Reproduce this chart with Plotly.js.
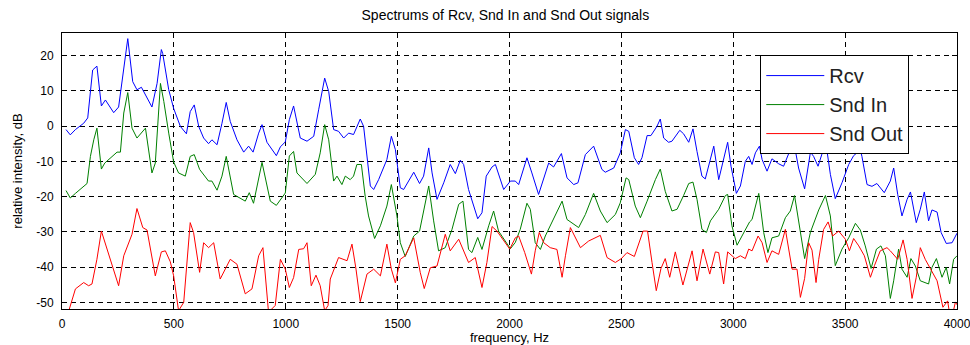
<!DOCTYPE html>
<html>
<head>
<meta charset="utf-8">
<script src="https://cdn.plot.ly/plotly-3.0.1.min.js"></script>
<style>
html,body{margin:0;padding:0;background:#fff;}
#chart{width:970px;height:345px;}
</style>
</head>
<body>
<div id="chart"></div>
<script>
// ---- data ----
const chartTitle = "Spectrums of Rcv, Snd In and Snd Out signals";
const xTitle = "frequency, Hz";
const yTitle = "relative intensity, dB";
const seriesNames = ["Rcv", "Snd In", "Snd Out"];
const xTickVals = [0, 500, 1000, 1500, 2000, 2500, 3000, 3500, 4000];
const yTickVals = [-50, -40, -30, -20, -10, 0, 10, 20];

const freqRcv = [18,37,60,97,115,127,137,156,176,194,231,253,276,294,316,335,355,402,425,444,450,477,499,529,556,573,591,611,633,655,670,693,715,734,752,782,812,834,854,879,894,916,958,976,998,1016,1035,1065,1095,1125,1147,1174,1192,1214,1236,1259,1281,1303,1333,1348,1378,1393,1415,1452,1472,1490,1512,1527,1572,1598,1616,1639,1654,1676,1706,1735,1758,1780,1795,1817,1858,1877,1896,1922,1937,1959,1974,2004,2026,2041,2078,2100,2130,2175,2197,2232,2257,2287,2306,2339,2376,2413,2428,2466,2495,2518,2533,2558,2577,2592,2615,2632,2659,2674,2689,2711,2726,2761,2778,2801,2820,2838,2860,2875,2898,2913,2935,2957,2975,2990,3014,3032,3054,3069,3084,3099,3117,3129,3151,3173,3203,3225,3248,3274,3292,3319,3345,3359,3379,3400,3415,3434,3456,3486,3516,3538,3568,3575,3598,3620,3642,3675,3702,3717,3735,3754,3777,3792,3818,3836,3854,3873,3888,3911,3929,3952,3978,4000];
const rcv = [-1,-2.5,-1,0.8,2.3,9.8,15.9,17,5.7,7.4,3.8,5.4,16.9,24.8,12.6,10.3,11,5.4,12.1,21.7,20.6,10.3,5,-0.1,-2.2,4.1,6,-0.1,-3.4,-5,-3.9,-5.3,0.8,6.7,1.3,-3.9,-7.4,-5.7,-7.4,-2,0.4,-4.6,-8.4,-5.9,-4.5,1.8,5.7,-3.4,-4.3,-2.9,4.6,13.6,9.8,-1,-1.5,-3.4,-2,-2.4,2,-0.1,-17,-18,-15.2,-9.5,-2.9,-6.7,-17.5,-18,-13.1,-16.3,-14.2,-6.2,-13.3,-20.8,-16.1,-10.9,-13.5,-9.7,-10.9,-18,-26.3,-24.6,-14.2,-11.6,-10.9,-15.2,-18,-15.6,-15.6,-16.6,-9,-13.3,-19.4,-10.5,-11.6,-7.8,-14.7,-16.6,-16.1,-8.1,-5.7,-12.3,-13.1,-11.9,-7.6,-1,-1.5,-9,-10.9,-9,-2.7,-2.7,-0.1,2,-3.4,-4.6,-4.3,-1.2,-2.2,-4.6,-0.8,-7.2,-14.2,-15,-9.3,-5.7,-15.2,-9.5,-4.6,-11.4,-19.1,-17,-10,-8.6,-10.9,-7.6,-5.7,-9.5,-12.8,-9.3,-10.7,-11.4,-7.8,-5.7,-11.9,-17.8,-7.4,-8.6,-11.4,-7.2,-5.3,-13.7,-20.6,-16.1,-10.9,-8.4,-6.8,-8.6,-16.6,-17.1,-16.3,-18.9,-15.6,-11.9,-19.4,-25.5,-20.8,-18.7,-27.4,-23.6,-18.7,-26.9,-23.8,-24.4,-30.2,-33.3,-33.1,-30.4];

const freqSndIn = [18,37,60,112,127,142,156,176,191,216,246,261,276,294,313,335,373,402,417,440,455,477,499,521,551,573,591,615,655,670,693,715,734,767,819,837,856,894,931,958,998,1016,1035,1050,1095,1132,1154,1174,1192,1214,1229,1251,1266,1288,1303,1318,1338,1355,1370,1397,1423,1452,1472,1497,1512,1534,1572,1598,1616,1639,1661,1683,1713,1743,1773,1792,1817,1832,1858,1877,1907,1929,1951,2004,2026,2048,2078,2093,2115,2138,2160,2205,2235,2257,2309,2339,2376,2406,2436,2473,2495,2521,2533,2562,2585,2615,2652,2674,2696,2726,2749,2778,2801,2820,2838,2860,2880,2898,2935,2965,2975,2994,3017,3039,3073,3084,3114,3136,3155,3173,3203,3233,3255,3274,3295,3319,3345,3382,3412,3434,3456,3486,3516,3546,3568,3590,3616,3640,3660,3680,3702,3717,3739,3754,3777,3794,3814,3836,3873,3888,3908,3933,3952,3967,3985,4000];
const sndIn = [-18.3,-20.4,-19.1,-16.3,-8.6,-3.9,-0.6,-12.2,-10.5,-9,-7.4,-7.4,3.7,9.5,-0.6,-3.4,-0.6,-13.3,-10.5,12.1,7,-2,-10.2,-13.3,-14.2,-8.6,-8.1,-12.3,-15.6,-15.6,-18.2,-14.2,-8.6,-19.4,-21.3,-18.9,-21.9,-10.3,-21.3,-22.5,-19,-8.5,-7.2,-13.3,-16.3,-13.7,-7.6,0.4,-3.9,-15.6,-14.2,-16.6,-14.2,-15.2,-14.2,-10.9,-10.9,-19.9,-25.5,-31.9,-28.3,-22.7,-16.6,-25.5,-33.1,-37,-31.2,-29.8,-24.1,-17,-26.9,-35.4,-34.5,-29.3,-22.2,-21.3,-35,-35.9,-31.6,-35,-28.3,-24.1,-29.8,-34.8,-33,-29.3,-21.9,-23.6,-33.1,-35,-31.2,-25.5,-21.3,-26.5,-28.8,-25.1,-19.1,-24.1,-27.4,-25.1,-21.8,-14.7,-15.2,-22.7,-26,-21.3,-15.2,-12.2,-18.5,-24.1,-23.6,-19.7,-16.3,-15.9,-20.8,-29.3,-30.2,-26.9,-23.6,-19.7,-19.4,-28.3,-33.8,-31.2,-27.2,-26.5,-19.1,-30.2,-35.9,-31.7,-31.2,-26,-24.1,-19.7,-28.3,-37.6,-30.1,-23.8,-19.7,-25.5,-39.6,-34.9,-31.7,-27.6,-29.5,-34,-40.4,-34.9,-34,-36.8,-48.9,-43.9,-34.9,-40.6,-42.9,-37.6,-39.7,-43.9,-44.8,-40.1,-37.6,-42.9,-40.1,-44.8,-37.8,-36.8];

const freqSndOut = [18,40,60,97,119,134,156,176,201,253,276,313,335,361,380,417,444,462,484,499,521,544,573,588,615,633,655,678,707,752,782,819,849,879,898,923,953,976,998,1016,1035,1058,1080,1095,1114,1135,1154,1174,1189,1199,1236,1274,1296,1314,1333,1363,1393,1423,1452,1472,1490,1512,1534,1572,1601,1619,1646,1676,1713,1735,1773,1817,1847,1877,1899,1922,1944,2001,2026,2041,2068,2098,2115,2133,2153,2182,2212,2235,2250,2272,2317,2354,2406,2436,2473,2500,2525,2558,2597,2617,2637,2656,2677,2696,2716,2741,2775,2816,2838,2865,2895,2920,2935,2957,2975,3009,3032,3054,3069,3084,3111,3129,3151,3173,3203,3233,3263,3285,3300,3319,3337,3352,3370,3382,3404,3424,3444,3471,3501,3519,3538,3561,3586,3613,3631,3657,3687,3702,3735,3759,3777,3799,3818,3836,3858,3881,3911,3937,3958,3973,3993,4000];
const sndOut = [-55,-50,-46.2,-44.4,-45.3,-44.8,-37.8,-29.8,-34.9,-45.3,-36.8,-30.7,-23.4,-28.8,-29.5,-42.5,-35.7,-35.4,-38.5,-42.5,-52.4,-50,-27.4,-30.2,-41.5,-33.1,-34.5,-33.1,-43.4,-37.8,-39.2,-47.6,-46.2,-36.8,-34.5,-52.8,-50.9,-37.8,-40.6,-45.8,-43,-35,-34.8,-33.1,-45.3,-42.3,-45.3,-52.4,-50.9,-43.4,-37.3,-38.2,-33.5,-40.6,-49.8,-42,-40.6,-42.5,-33.5,-40.6,-44.5,-37.8,-36.8,-31.7,-41.5,-46.1,-40.2,-39.7,-30.7,-35.4,-32.1,-38.7,-37.3,-45.8,-38.7,-28.5,-29.8,-34.9,-31.7,-31.2,-35.9,-42,-35.4,-30.2,-33.1,-34.5,-35,-42.9,-36.8,-28.8,-34.5,-32.6,-31,-37.3,-38.7,-37.6,-35.9,-37,-29.8,-29.8,-38.7,-46.7,-40.4,-37.6,-42.9,-35.7,-45.1,-35.4,-43.9,-34.9,-42,-35.7,-35.9,-44.8,-35.7,-37.6,-36.8,-37.6,-34.9,-35.4,-31.2,-33.1,-38.7,-35.4,-36.4,-29.3,-40.6,-40.6,-48.6,-43.2,-33.1,-35.2,-44.4,-37.8,-29.3,-27.2,-31.2,-29.8,-32.1,-35.4,-31.9,-34,-36.8,-42.9,-39.6,-35.4,-34.5,-35.4,-37.8,-32.3,-37.8,-48.9,-42.9,-34.5,-37.8,-40.6,-43.9,-51.4,-49.6,-55.5,-49.9,-50.7];

// ---- chart ----
const FONT = "Liberation Sans, Arial, sans-serif";
const traces = [
  {x: freqRcv, y: rcv, name: seriesNames[0], type: "scatter", mode: "lines", line: {color: "#0000ff", width: 1}},
  {x: freqSndIn, y: sndIn, name: seriesNames[1], type: "scatter", mode: "lines", line: {color: "#008000", width: 1}},
  {x: freqSndOut, y: sndOut, name: seriesNames[2], type: "scatter", mode: "lines", line: {color: "#ff0000", width: 1}}
];

const axisCommon = {
  showline: true, linecolor: "#000", linewidth: 1, mirror: "ticks",
  ticks: "inside", ticklen: 5, tickcolor: "#000", tickwidth: 1,
  showgrid: true, gridcolor: "#000", gridwidth: 1, griddash: "5px,4px",
  zeroline: false, automargin: false, ticklabeloverflow: "allow",
  tickfont: {family: FONT, size: 12, color: "#000"}
};

const layout = {
  width: 970, height: 345,
  paper_bgcolor: "#fff", plot_bgcolor: "#fff",
  margin: {l: 62, r: 13, t: 33, b: 36},
  title: {text: chartTitle, font: {family: FONT, size: 14, color: "#000"}, x: 0.521, xanchor: "center", y: 0.957, yanchor: "middle"},
  xaxis: Object.assign({}, axisCommon, {
    range: [0, 4000], tickvals: xTickVals, ticktext: xTickVals.map(String),
    ticklabelstandoff: 4,
    title: {text: xTitle, font: {family: FONT, size: 13, color: "#000"}, standoff: 3}
  }),
  yaxis: Object.assign({}, axisCommon, {
    range: [-51.9, 26.4], tickvals: yTickVals, ticktext: yTickVals.map(String),
    ticklabelstandoff: 5,
    title: {text: yTitle, font: {family: FONT, size: 13, color: "#000"}, standoff: 10}
  }),
  showlegend: true,
  legend: {
    x: 0.7802, y: 0.92, xanchor: "left", yanchor: "top",
    bgcolor: "#fff", bordercolor: "#000", borderwidth: 1,
    font: {family: FONT, size: 20, color: "#222"},
    itemwidth: 58, tracegroupgap: 0
  }
};

Plotly.newPlot("chart", traces, layout, {staticPlot: true, displayModeBar: false});
</script>
</body>
</html>
